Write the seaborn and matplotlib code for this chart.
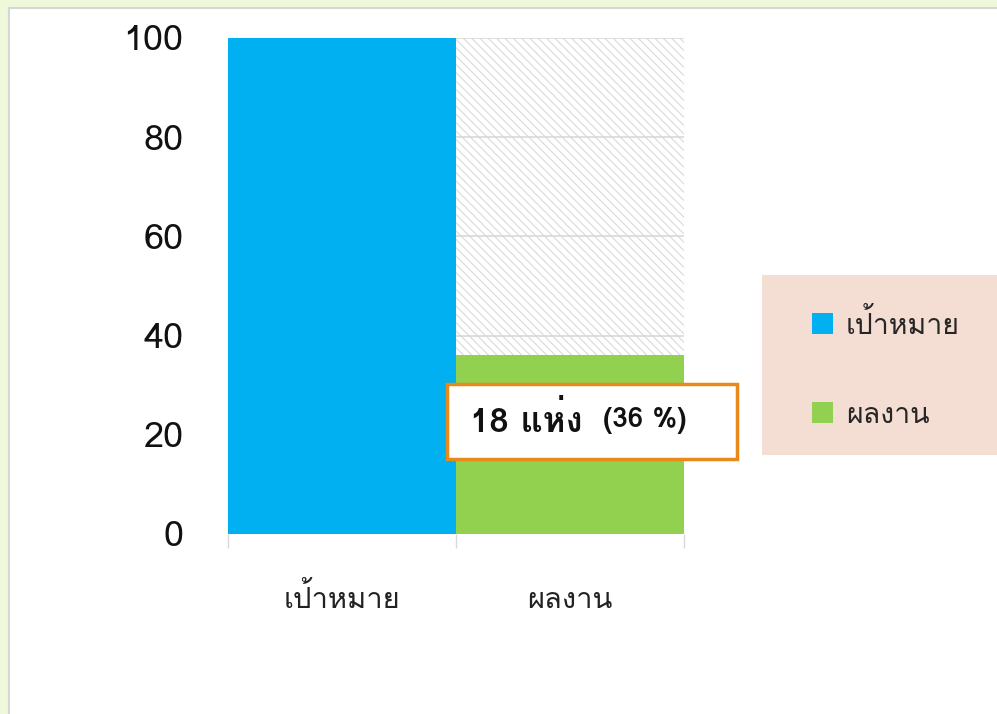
import matplotlib
matplotlib.use("Agg")
import matplotlib.pyplot as plt
import seaborn as sns
import pandas as pd
from matplotlib import font_manager
from matplotlib.ft2font import FT2Font
from matplotlib.patches import Rectangle, Patch

# data
categories = ["เป้าหมาย", "ผลงาน"]
values = [100, 36]
target = [100, 100]
sites_done = 18
percent_done = 36
y_ticks = [0, 20, 40, 60, 80, 100]
bar_colors = ["#00B0F0", "#92D050"]


def find_thai_font():
    """look for an installed font that has Thai glyphs"""
    for f in font_manager.fontManager.ttflist:
        try:
            cmap = FT2Font(f.fname).get_charmap()
        except Exception:
            continue
        if 0x0E1C in cmap and 0x0E49 in cmap:
            return f.name
    return None


sns.set_style("white")
thai = find_thai_font()
families = ["Liberation Sans Narrow"]
if thai:
    families.append(thai)
families.append("DejaVu Sans")
plt.rcParams["font.family"] = families
plt.rcParams["hatch.linewidth"] = 0.8

df = pd.DataFrame({"category": categories, "value": values, "target": target})

W, H = 997, 714
fig = plt.figure(figsize=(W / 100, H / 100), dpi=100, facecolor="#EFF8DA")
fig.patches.append(Rectangle((9 / W, -0.01), 1.0, 1 - 8 / H + 0.01, transform=fig.transFigure,
                             facecolor="white", edgecolor="#D6D6D6", lw=1.5, zorder=-2))

ax = fig.add_axes([228 / W, 1 - 534 / H, 456 / W, 496 / H])
ax.set_zorder(2)
ax.set_facecolor("none")

# hatched "remaining" background
sns.barplot(data=df, x="category", y="target", color="white", width=1, saturation=1,
            linewidth=0, ax=ax)
for p in ax.patches:
    p.set_facecolor("none")
    p.set_hatch("\\" * 4)
    p.set_edgecolor("#D9D9D9")
    p.set_linewidth(0)

sns.barplot(data=df, x="category", y="value", hue="category", palette=bar_colors,
            width=1, saturation=1, linewidth=0, legend=False, ax=ax)

ax.set_ylim(0, 100)
ax.set_xlim(-0.5, 1.5)
ax.set_yticks(y_ticks)
ax.yaxis.grid(True, color="#D9D9D9", lw=1.2)
ax.set_axisbelow(True)
sns.despine(ax=ax, left=True, bottom=True)
ax.set_xlabel("")
ax.set_ylabel("")
ax.tick_params(axis="y", length=0, pad=32, labelsize=26, labelcolor="#111111")
ax.tick_params(axis="x", which="major", length=0, pad=53, labelsize=21, labelcolor="#222222")
for lbl in ax.get_xticklabels():
    lbl.set_verticalalignment("baseline")
ax.set_xticks([-0.5, 0.5, 1.5], minor=True)
ax.tick_params(axis="x", which="minor", bottom=True, length=10, width=1, color="#D9D9D9")

# legend on a pink panel
fig.patches.append(Rectangle((762 / W, 1 - 455 / H), 240 / W, 180 / H, transform=fig.transFigure,
                             facecolor="#F4DDD2", edgecolor="none", zorder=1))
handles = [Patch(facecolor=c, edgecolor="none") for c in bar_colors]
fig.legend(handles, categories, loc="upper left", bbox_to_anchor=(786 / W, 1 - 283 / H),
           frameon=False, fontsize=20.5, handlelength=0.75, handleheight=0.75,
           handletextpad=0.45, labelspacing=2.2)

# annotation box
fig.patches.append(Rectangle((447 / W, 1 - 459 / H), 290 / W, 75 / H, transform=fig.transFigure,
                             facecolor="white", edgecolor="#E8891C", lw=2.5, zorder=3))
fig.text(470 / W, 1 - 420 / H, f"{sites_done} แห่ง", fontsize=25, fontweight="bold",
         va="center", ha="left", color="#111111", zorder=4)
fig.text(603 / W, 1 - 421 / H, f"({percent_done} %)", fontsize=20, fontweight="bold",
         va="center", ha="left", color="#111111", zorder=4)

plt.savefig("out.png", dpi=100, facecolor=fig.get_facecolor())
